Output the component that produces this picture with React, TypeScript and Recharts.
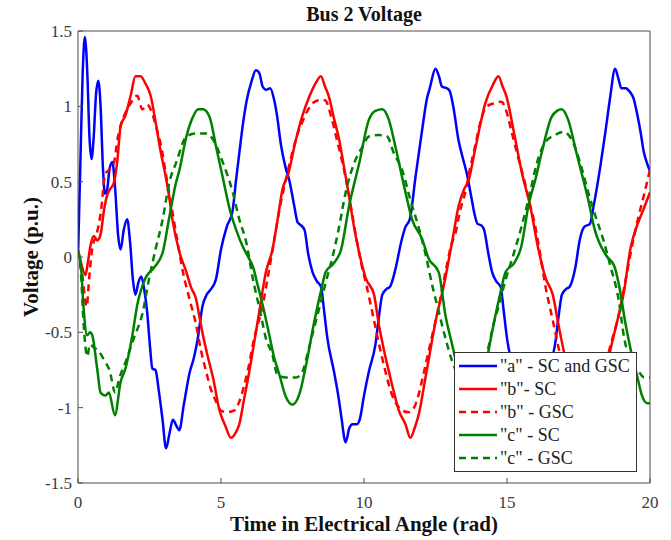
import { CartesianGrid, Legend, Line, LineChart, XAxis, YAxis } from 'recharts';

// phase "a" (identical for SC and GSC), [time (rad), voltage (p.u.)]
const phaseA: [number, number][] = [
  [0, 0], [0.08, 0.6], [0.16, 1.2], [0.24, 1.46], [0.33, 1.2], [0.4, 0.8], [0.47, 0.65], [0.55, 0.8],
  [0.63, 1.08], [0.71, 1.17], [0.79, 1.0], [0.87, 0.6], [0.94, 0.42], [1.02, 0.45], [1.1, 0.58], [1.2, 0.63],
  [1.3, 0.45], [1.4, 0.15], [1.49, 0.05], [1.6, 0.18], [1.72, 0.25], [1.82, 0.1], [1.92, -0.15], [2.01, -0.25],
  [2.11, -0.17], [2.21, -0.13], [2.32, -0.22], [2.42, -0.37], [2.52, -0.6], [2.6, -0.74], [2.71, -0.75],
  [2.82, -0.88], [2.95, -1.07], [3.08, -1.27], [3.2, -1.17], [3.32, -1.08], [3.44, -1.12], [3.54, -1.15],
  [3.7, -0.98], [3.9, -0.77], [4.05, -0.67], [4.18, -0.55], [4.36, -0.32], [4.5, -0.25], [4.62, -0.22],
  [4.82, -0.15], [5.0, 0.05], [5.2, 0.2], [5.4, 0.3], [5.52, 0.5], [5.64, 0.69], [5.78, 0.9], [5.9, 1.04],
  [6.06, 1.16], [6.22, 1.24], [6.34, 1.22], [6.46, 1.13], [6.58, 1.11], [6.72, 1.12], [6.85, 1.05],
  [6.95, 0.95], [7.1, 0.74], [7.25, 0.6], [7.4, 0.5], [7.56, 0.34], [7.68, 0.23], [7.8, 0.21], [7.92, 0.18],
  [8.05, 0.02], [8.2, -0.1], [8.35, -0.16], [8.5, -0.2], [8.6, -0.35], [8.72, -0.54], [8.95, -0.76],
  [9.1, -0.92], [9.2, -1.05], [9.36, -1.23], [9.48, -1.14], [9.6, -1.11], [9.75, -1.11], [9.85, -1.08],
  [10.0, -0.92], [10.17, -0.76], [10.4, -0.58], [10.52, -0.4], [10.64, -0.25], [10.8, -0.21], [10.9, -0.2],
  [11.1, -0.08], [11.3, 0.1], [11.45, 0.2], [11.6, 0.25], [11.8, 0.53], [12.03, 0.84], [12.2, 1.05],
  [12.3, 1.12], [12.5, 1.25], [12.62, 1.2], [12.73, 1.13], [12.9, 1.12], [13.0, 1.1], [13.12, 1.0],
  [13.3, 0.78], [13.45, 0.66], [13.6, 0.55], [13.75, 0.4], [13.87, 0.28], [13.97, 0.22], [14.1, 0.21],
  [14.2, 0.18], [14.35, 0.02], [14.48, -0.1], [14.62, -0.16], [14.78, -0.2], [14.88, -0.35], [15.0, -0.54],
  [15.23, -0.76], [15.38, -0.92], [15.48, -1.05], [15.64, -1.23], [15.76, -1.14], [15.88, -1.11],
  [16.03, -1.11], [16.13, -1.08], [16.28, -0.92], [16.45, -0.76], [16.68, -0.58], [16.8, -0.4],
  [16.92, -0.25], [17.08, -0.21], [17.18, -0.2], [17.38, -0.08], [17.55, 0.12], [17.7, 0.2], [17.9, 0.22],
  [18.03, 0.34], [18.27, 0.61], [18.44, 0.83], [18.6, 1.05], [18.78, 1.25], [18.9, 1.18], [19.0, 1.12],
  [19.15, 1.12], [19.28, 1.1], [19.43, 1.05], [19.55, 0.95], [19.67, 0.83], [19.78, 0.7], [19.9, 0.62], [20, 0.57],
];

// phase "b", synchronous condenser
const phaseBsc: [number, number][] = [
  [0, 0.04], [0.12, -0.05], [0.26, -0.12], [0.35, -0.03], [0.44, 0.08], [0.55, 0.14], [0.67, 0.11],
  [0.79, 0.15], [0.9, 0.3], [1.02, 0.41], [1.12, 0.45], [1.25, 0.49], [1.37, 0.63], [1.49, 0.87],
  [1.66, 0.94], [1.84, 1.07], [2.01, 1.2], [2.19, 1.2], [2.36, 1.15], [2.54, 1.07], [2.71, 0.9], [2.89, 0.7],
  [3.06, 0.54], [3.18, 0.41], [3.3, 0.25], [3.55, 0.03], [3.79, -0.1], [3.95, -0.2], [4.13, -0.28],
  [4.25, -0.4], [4.37, -0.52], [4.55, -0.67], [4.72, -0.8], [4.95, -1.02], [5.15, -1.12], [5.35, -1.2],
  [5.5, -1.17], [5.64, -1.11], [5.8, -0.95], [5.99, -0.76], [6.15, -0.58], [6.34, -0.36], [6.57, -0.1],
  [6.8, 0.05], [6.98, 0.25], [7.15, 0.45], [7.35, 0.55], [7.62, 0.78], [7.85, 0.94], [8.08, 1.06],
  [8.3, 1.15], [8.49, 1.2], [8.64, 1.13], [8.78, 1.06], [8.95, 0.92], [9.13, 0.78], [9.3, 0.6], [9.48, 0.4],
  [9.65, 0.2], [9.83, 0.03], [10.06, -0.14], [10.35, -0.25], [10.52, -0.45], [10.7, -0.62], [10.87, -0.76],
  [11.05, -0.9], [11.22, -1.02], [11.45, -1.11], [11.62, -1.2], [11.78, -1.13], [11.92, -1.04],
  [12.15, -0.8], [12.3, -0.64], [12.5, -0.43], [12.79, -0.19], [13.08, 0.1], [13.31, 0.34], [13.5, 0.45],
  [13.66, 0.51], [13.85, 0.68], [14.0, 0.82], [14.24, 1.02], [14.5, 1.14], [14.7, 1.2], [14.85, 1.13],
  [14.99, 1.06], [15.23, 0.84], [15.52, 0.56], [15.81, 0.34], [16.1, 0.05], [16.35, -0.14], [16.6, -0.25],
  [16.8, -0.45], [16.98, -0.62], [17.15, -0.76], [17.5, -1.02], [17.72, -1.11], [17.9, -1.2], [18.05, -1.13],
  [18.2, -1.04], [18.42, -0.8], [18.6, -0.63], [18.85, -0.43], [19.08, -0.24], [19.32, 0.06], [19.55, 0.21],
  [19.78, 0.32], [20, 0.43],
];

// phase "b", grid-scale converter
const phaseBgsc: [number, number][] = [
  [0, 0.04], [0.15, -0.12], [0.3, -0.33], [0.4, -0.12], [0.5, 0.06], [0.65, 0.15], [0.8, 0.3], [0.95, 0.55],
  [1.1, 0.58], [1.25, 0.62], [1.4, 0.8], [1.6, 0.93], [1.84, 1.02], [2.07, 1.07], [2.25, 0.98], [2.42, 1.01],
  [2.6, 0.95], [2.75, 0.85], [2.89, 0.75], [3.1, 0.52], [3.3, 0.3], [3.5, 0.08], [3.67, -0.1], [3.9, -0.28],
  [4.13, -0.45], [4.3, -0.62], [4.48, -0.76], [4.65, -0.88], [4.83, -0.96], [5.0, -1.02], [5.2, -1.03],
  [5.45, -1.02], [5.64, -0.96], [5.8, -0.86], [5.93, -0.76], [6.16, -0.54], [6.46, -0.32], [6.65, -0.12],
  [6.85, 0.1], [7.05, 0.32], [7.25, 0.5], [7.45, 0.66], [7.65, 0.8], [7.85, 0.9], [8.05, 0.98], [8.27, 1.03],
  [8.45, 1.04], [8.63, 1.04], [8.87, 0.92], [9.05, 0.78], [9.3, 0.58], [9.5, 0.38], [9.7, 0.16], [9.9, -0.04],
  [10.1, -0.2], [10.35, -0.42], [10.55, -0.6], [10.75, -0.76], [10.95, -0.9], [11.15, -0.98], [11.35, -1.02],
  [11.55, -1.03], [11.75, -1.0], [11.9, -0.92], [12.1, -0.76], [12.35, -0.55], [12.6, -0.34], [12.85, -0.1],
  [13.05, 0.08], [13.2, 0.16], [13.35, 0.3], [13.54, 0.43], [13.7, 0.58], [13.89, 0.74], [14.12, 0.93],
  [14.3, 1.0], [14.55, 1.02], [14.8, 1.03], [14.99, 0.96], [15.15, 0.84], [15.35, 0.69], [15.63, 0.49],
  [15.8, 0.35], [15.98, 0.21], [16.15, 0.03], [16.35, -0.2], [16.6, -0.42], [16.8, -0.6], [17.0, -0.76],
  [17.2, -0.9], [17.4, -0.98], [17.6, -1.02], [17.85, -1.03], [18.05, -1.0], [18.2, -0.92], [18.4, -0.76],
  [18.6, -0.6], [18.9, -0.39], [19.15, -0.15], [19.4, 0.1], [19.6, 0.27], [19.8, 0.42], [20, 0.58],
];

// phase "c", synchronous condenser
const phaseCsc: [number, number][] = [
  [0, 0.04], [0.1, -0.05], [0.2, -0.35], [0.32, -0.52], [0.42, -0.5], [0.5, -0.52], [0.67, -0.74],
  [0.79, -0.9], [0.96, -0.92], [1.08, -0.9], [1.29, -1.05], [1.49, -0.83], [1.66, -0.74], [1.9, -0.52],
  [2.07, -0.32], [2.36, -0.14], [2.66, -0.07], [2.96, 0.03], [3.18, 0.25], [3.41, 0.48], [3.55, 0.58],
  [3.79, 0.8], [4.02, 0.93], [4.2, 0.98], [4.37, 0.98], [4.6, 0.93], [4.83, 0.73], [5.06, 0.53], [5.3, 0.32],
  [5.53, 0.18], [5.76, 0.07], [5.95, 0.0], [6.11, -0.06], [6.3, -0.2], [6.46, -0.32], [6.69, -0.52],
  [6.85, -0.66], [7.04, -0.78], [7.27, -0.93], [7.5, -0.98], [7.74, -0.91], [7.97, -0.72], [8.26, -0.43],
  [8.49, -0.23], [8.66, -0.1], [8.95, -0.04], [9.2, 0.05], [9.48, 0.34], [9.83, 0.62], [10.17, 0.91],
  [10.4, 0.97], [10.64, 0.98], [10.87, 0.91], [11.1, 0.73], [11.45, 0.43], [11.68, 0.25], [12.03, 0.12],
  [12.26, -0.01], [12.61, -0.1], [12.85, -0.39], [13.08, -0.58], [13.3, -0.76], [13.55, -0.93], [13.78, -0.98],
  [14.0, -0.91], [14.25, -0.72], [14.55, -0.43], [14.78, -0.23], [14.95, -0.1], [15.25, -0.04], [15.5, 0.07],
  [15.75, 0.34], [16.0, 0.52], [16.21, 0.69], [16.56, 0.93], [16.75, 0.97], [16.91, 0.98], [17.14, 0.91],
  [17.43, 0.69], [17.84, 0.38], [18.07, 0.18], [18.47, 0.01], [18.75, -0.06], [18.92, -0.19], [19.15, -0.45],
  [19.32, -0.61], [19.55, -0.79], [19.72, -0.92], [19.9, -0.97], [20, -0.97],
];

// phase "c", grid-scale converter
const phaseCgsc: [number, number][] = [
  [0, 0.04], [0.1, -0.1], [0.2, -0.45], [0.32, -0.66], [0.42, -0.58], [0.55, -0.6], [0.7, -0.62],
  [0.96, -0.7], [1.1, -0.75], [1.3, -0.9], [1.45, -0.8], [1.66, -0.7], [1.95, -0.54], [2.26, -0.37],
  [2.49, -0.14], [2.71, 0.05], [2.95, 0.24], [3.2, 0.5], [3.44, 0.63], [3.79, 0.8], [4.13, 0.82], [4.48, 0.82],
  [4.72, 0.78], [5.06, 0.63], [5.41, 0.43], [5.64, 0.25], [5.88, 0.1], [6.11, -0.14], [6.39, -0.38],
  [6.57, -0.54], [6.8, -0.65], [6.97, -0.78], [7.27, -0.8], [7.62, -0.8], [7.85, -0.76], [8.08, -0.6],
  [8.31, -0.43], [8.49, -0.3], [8.66, -0.17], [8.9, 0.0], [9.13, 0.2], [9.36, 0.43], [9.65, 0.62], [9.94, 0.73],
  [10.17, 0.8], [10.52, 0.81], [10.81, 0.8], [11.04, 0.69], [11.33, 0.58], [11.62, 0.38], [11.92, 0.19],
  [12.15, 0.02], [12.4, -0.2], [12.61, -0.36], [12.85, -0.54], [13.08, -0.69], [13.3, -0.78], [13.6, -0.8],
  [13.9, -0.8], [14.1, -0.76], [14.35, -0.6], [14.55, -0.43], [14.75, -0.3], [14.95, -0.15], [15.2, 0.0],
  [15.52, 0.21], [15.81, 0.43], [16.04, 0.62], [16.33, 0.76], [16.68, 0.81], [16.97, 0.83], [17.26, 0.78],
  [17.55, 0.63], [17.84, 0.43], [18.13, 0.25], [18.36, 0.12], [18.6, -0.05], [18.9, -0.28], [19.1, -0.54],
  [19.35, -0.7], [19.6, -0.76], [19.8, -0.8], [20, -0.8],
];

const xTicks = [0, 5, 10, 15, 20];
const yTicks = [-1.5, -1, -0.5, 0, 0.5, 1, 1.5];

const BLUE = '#0000ff';
const RED = '#ff0000';
const GREEN = '#008000';
const DASH = '7 5';

const series = [
  { key: 'a', name: '"a" - SC and GSC', points: phaseA, color: BLUE, dash: undefined },
  { key: 'bsc', name: '"b"- SC', points: phaseBsc, color: RED, dash: undefined },
  { key: 'bgsc', name: '"b" - GSC', points: phaseBgsc, color: RED, dash: DASH },
  { key: 'csc', name: '"c" - SC', points: phaseCsc, color: GREEN, dash: undefined },
  { key: 'cgsc', name: '"c" - GSC', points: phaseCgsc, color: GREEN, dash: DASH },
];

const serif = '"Liberation Serif", "Times New Roman", serif';
const tickStyle = { fontFamily: serif, fontSize: 17, fill: '#3a3a3a' };
const axisColor = '#4d4d4d';

function LegendBox() {
  return (
    <svg width={183} height={120} style={{ display: 'block' }}>
      {series.map((s, i) => {
        const y = 13 + i * 23;
        return (
          <g key={s.key}>
            <line x1={4} x2={42} y1={y} y2={y} stroke={s.color} strokeWidth={2.5} strokeDasharray={s.dash} />
            <text x={45} y={y + 6} fontFamily={serif} fontSize={18} fill="#222">
              {s.name}
            </text>
          </g>
        );
      })}
    </svg>
  );
}

export default function App() {
  return (
    <div style={{ position: 'absolute', left: 0, top: 0, width: 671, height: 540, background: '#fff' }}>
      <LineChart width={671} height={540} margin={{ top: 30, right: 20, bottom: 0, left: 0 }}>
        <CartesianGrid stroke="none" />
        <XAxis
          xAxisId="bottom"
          type="number"
          dataKey="t"
          domain={[0, 20]}
          ticks={xTicks}
          allowDataOverflow
          height={57}
          stroke={axisColor}
          tickSize={-5}
          tickMargin={18}
          tick={tickStyle}
          label={{
            content: ({ viewBox }: any) => (
              <text
                x={viewBox.x + viewBox.width / 2}
                y={531}
                textAnchor="middle"
                fontFamily={serif}
                fontSize={21}
                fontWeight={700}
                fill="#111"
              >
                Time in Electrical Angle (rad)
              </text>
            ),
          }}
        />
        <XAxis
          xAxisId="top"
          orientation="top"
          type="number"
          dataKey="t"
          domain={[0, 20]}
          ticks={xTicks}
          height={1}
          stroke={axisColor}
          tickSize={-5}
          tick={() => <g />}
          label={{
            content: ({ viewBox }: any) => (
              <text
                x={viewBox.x + viewBox.width / 2}
                y={21}
                textAnchor="middle"
                fontFamily={serif}
                fontSize={20}
                fontWeight={700}
                fill="#111"
              >
                Bus 2 Voltage
              </text>
            ),
          }}
        />
        <YAxis
          yAxisId="left"
          type="number"
          domain={[-1.5, 1.5]}
          ticks={yTicks}
          allowDataOverflow
          width={78}
          stroke={axisColor}
          tickSize={-5}
          tickMargin={11}
          tick={tickStyle}
          label={{
            content: ({ viewBox }: any) => {
              const cx = 31;
              const cy = viewBox.y + viewBox.height / 2;
              return (
                <text
                  x={cx}
                  y={cy}
                  transform={`rotate(-90 ${cx} ${cy})`}
                  textAnchor="middle"
                  dominantBaseline="central"
                  fontFamily={serif}
                  fontSize={21}
                  fontWeight={700}
                  fill="#111"
                >
                  Voltage (p.u.)
                </text>
              );
            },
          }}
        />
        <YAxis
          yAxisId="right"
          orientation="right"
          type="number"
          domain={[-1.5, 1.5]}
          ticks={yTicks}
          width={1}
          stroke={axisColor}
          tickSize={-5}
          tick={() => <g />}
        />
        {series.map((s) => (
          <Line
            key={s.key}
            xAxisId="bottom"
            yAxisId="left"
            data={s.points.map(([t, v]) => ({ t, v }))}
            dataKey="v"
            name={s.name}
            type="monotone"
            stroke={s.color}
            strokeWidth={2.5}
            strokeDasharray={s.dash}
            dot={false}
            activeDot={false}
            isAnimationActive={false}
          />
        ))}
        <Legend
          layout="vertical"
          align="center"
          verticalAlign="middle"
          content={() => <LegendBox />}
          wrapperStyle={{
            left: 454,
            top: 352,
            width: 183,
            height: 120,
            background: '#fff',
            border: '1px solid #333',
            boxSizing: 'border-box',
          }}
        />
      </LineChart>
    </div>
  );
}
